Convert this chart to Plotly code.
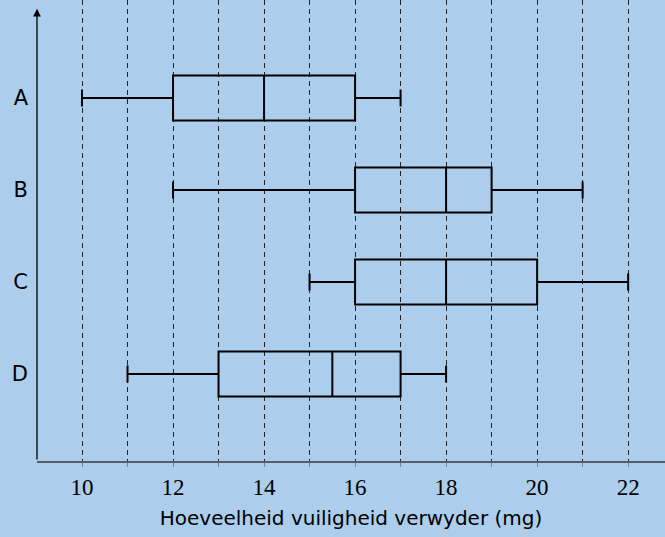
import plotly.graph_objects as go

# data
groups = ["A", "B", "C", "D"]
ypos = [4, 3, 2, 1]
lower = [10, 12, 15, 11]
q1 = [12, 16, 16, 13]
median = [14, 18, 18, 15.5]
q3 = [16, 19, 20, 17]
upper = [17, 21, 22, 18]
xticks = [10, 12, 14, 16, 18, 20, 22]

bg = "#accdeb"

fig = go.Figure()
fig.add_trace(go.Box(
    y=ypos,
    q1=q1, median=median, q3=q3,
    lowerfence=lower, upperfence=upper,
    orientation="h",
    width=0.49,
    whiskerwidth=0.38,
    line=dict(color="black", width=2),
    fillcolor="rgba(0,0,0,0)",
    boxpoints=False,
    hoverinfo="skip",
))

fig.update_layout(
    width=665, height=537,
    paper_bgcolor=bg, plot_bgcolor=bg,
    margin=dict(l=37, r=0, t=0, b=76),
    showlegend=False,
    font=dict(family="DejaVu Sans", color="black"),
)

fig.update_xaxes(
    range=[9.011, 22.81],
    tickvals=xticks,
    ticktext=[str(v) for v in xticks],
    tickfont=dict(family="Liberation Serif", size=23, color="black"),
    ticks="outside", ticklen=4, tickcolor="#7a8590", tickwidth=1,
    showgrid=True, gridcolor="#222222", gridwidth=1, griddash="5px,4px",
    minor=dict(dtick=1, tick0=0, showgrid=True, gridcolor="#222222",
               gridwidth=1, griddash="5px,4px", ticks="outside", ticklen=4,
               tickcolor="#7a8590"),
    showline=True, linecolor="#555e68", linewidth=2,
    zeroline=False,
    title=dict(text="Hoeveelheid vuiligheid verwyder (mg)",
               font=dict(family="DejaVu Sans", size=20, color="black"),
               standoff=12),
)

fig.update_yaxes(
    range=[0.054, 5.065],
    tickvals=ypos,
    ticktext=groups,
    tickfont=dict(family="DejaVu Sans", size=21, color="black"),
    ticks="", ticklabelstandoff=8,
    showgrid=False, zeroline=False, showline=False,
)

# y axis drawn as an arrow
fig.add_annotation(
    xref="x domain", yref="y", x=0, y=4.97,
    axref="x domain", ayref="y", ax=0, ay=0.054,
    showarrow=True, arrowhead=2, arrowsize=1.2, arrowwidth=1.3,
    arrowcolor="black", text="",
)

fig.write_html("out.html",
               config={"displayModeBar": False},
               post_script="document.body.style.margin='0';"
                           "document.body.style.background='" + bg + "';")
